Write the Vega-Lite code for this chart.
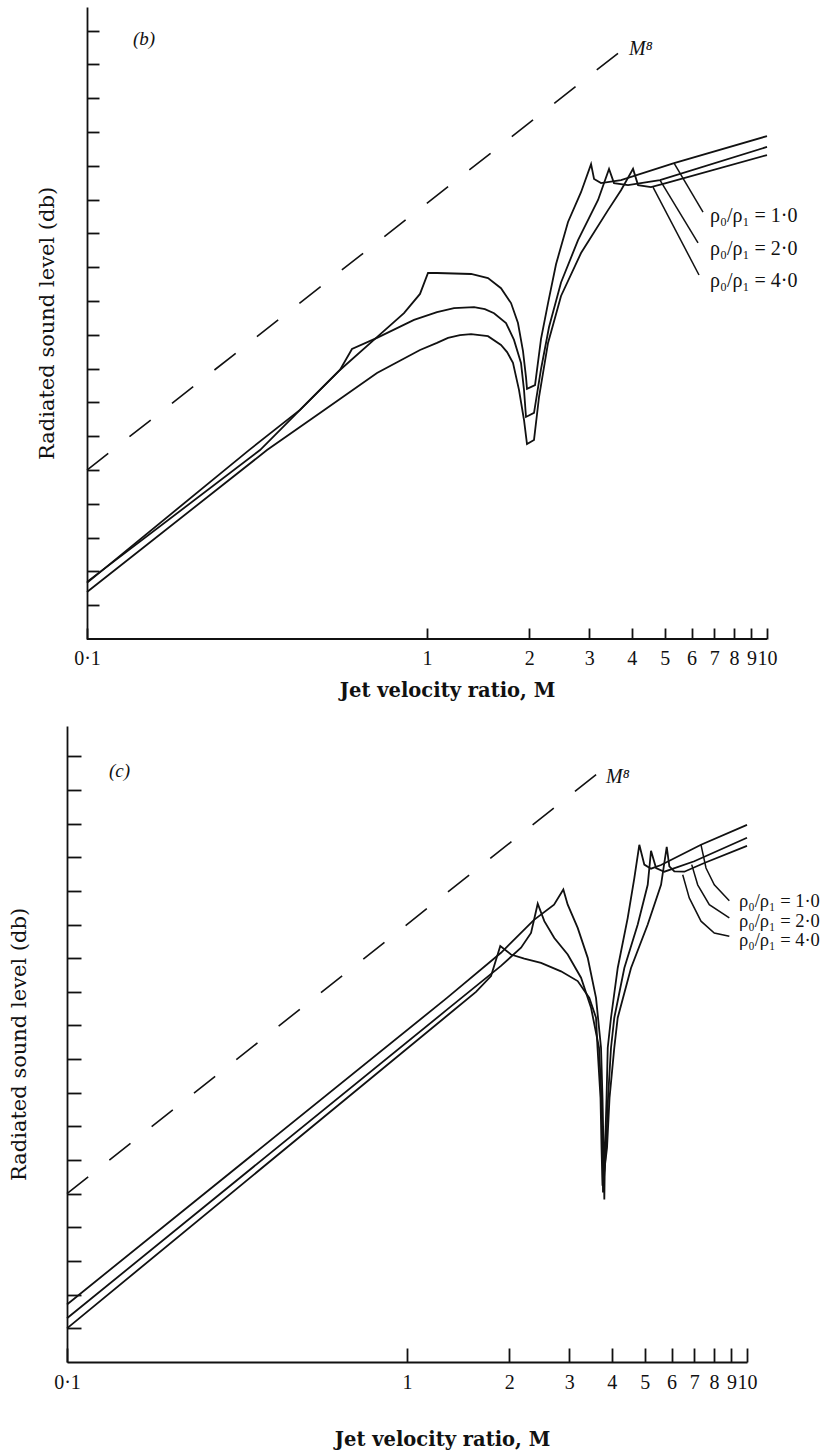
{
  "$schema": "https://vega.github.io/schema/vega-lite/v6.json",
  "background": "white",
  "padding": {"left": 8, "top": 7, "right": 2, "bottom": 2},
  "spacing": 26,
  "config": {
    "view": {"stroke": null},
    "axis": {"grid": false, "domainColor": "#111", "tickColor": "#111", "labelColor": "#111", "titleColor": "#111"}
  },
  "datasets": {
    "baxis": [{"M": 0.1, "M2": 10, "dB": 0}],
    "bdash": [{"i": 1, "M": 0.1, "dB": 50}, {"i": 2, "M": 3.72, "dB": 174}],
    "cdash": [{"i": 1, "M": 0.1, "dB": 50}, {"i": 2, "M": 3.646, "dB": 175}],
    "bcurves": [
      {"curve": "1", "i": 1, "M": 0.1, "dB": 16.9},
      {"curve": "1", "i": 2, "M": 0.3228, "dB": 55.9},
      {"curve": "1", "i": 3, "M": 0.4844, "dB": 73.7},
      {"curve": "1", "i": 4, "M": 0.5546, "dB": 79.6},
      {"curve": "1", "i": 5, "M": 0.7127, "dB": 89.3},
      {"curve": "1", "i": 6, "M": 0.8557, "dB": 96.4},
      {"curve": "1", "i": 7, "M": 0.9537, "dB": 102.1},
      {"curve": "1", "i": 8, "M": 1.0068, "dB": 108.3},
      {"curve": "1", "i": 9, "M": 1.07, "dB": 108.3},
      {"curve": "1", "i": 10, "M": 1.3475, "dB": 108.0},
      {"curve": "1", "i": 11, "M": 1.5114, "dB": 106.8},
      {"curve": "1", "i": 12, "M": 1.6506, "dB": 103.8},
      {"curve": "1", "i": 13, "M": 1.7666, "dB": 99.4},
      {"curve": "1", "i": 14, "M": 1.8516, "dB": 93.5},
      {"curve": "1", "i": 15, "M": 1.9158, "dB": 85.2},
      {"curve": "1", "i": 16, "M": 1.9551, "dB": 77.5},
      {"curve": "1", "i": 17, "M": 1.9684, "dB": 74.0},
      {"curve": "1", "i": 18, "M": 2.0784, "dB": 75.1},
      {"curve": "1", "i": 19, "M": 2.1647, "dB": 88.8},
      {"curve": "1", "i": 20, "M": 2.2698, "dB": 99.4},
      {"curve": "1", "i": 21, "M": 2.396, "dB": 110.9},
      {"curve": "1", "i": 22, "M": 2.5987, "dB": 123.4},
      {"curve": "1", "i": 23, "M": 2.8379, "dB": 132.2},
      {"curve": "1", "i": 24, "M": 3.0376, "dB": 140.5},
      {"curve": "1", "i": 25, "M": 3.0999, "dB": 136.1},
      {"curve": "1", "i": 26, "M": 3.25, "dB": 134.9},
      {"curve": "1", "i": 27, "M": 3.721, "dB": 135.8},
      {"curve": "1", "i": 28, "M": 5.3285, "dB": 140.8},
      {"curve": "1", "i": 29, "M": 10, "dB": 148.8},
      {"curve": "2", "i": 1, "M": 0.1, "dB": 16.6},
      {"curve": "2", "i": 2, "M": 0.2996, "dB": 55.9},
      {"curve": "2", "i": 3, "M": 0.4231, "dB": 67.8},
      {"curve": "2", "i": 4, "M": 0.5546, "dB": 79.6},
      {"curve": "2", "i": 5, "M": 0.6017, "dB": 85.8},
      {"curve": "2", "i": 6, "M": 0.7127, "dB": 89.1},
      {"curve": "2", "i": 7, "M": 0.9158, "dB": 94.4},
      {"curve": "2", "i": 8, "M": 1.07, "dB": 96.7},
      {"curve": "2", "i": 9, "M": 1.2006, "dB": 97.9},
      {"curve": "2", "i": 10, "M": 1.375, "dB": 98.2},
      {"curve": "2", "i": 11, "M": 1.48, "dB": 97.6},
      {"curve": "2", "i": 12, "M": 1.5746, "dB": 96.4},
      {"curve": "2", "i": 13, "M": 1.7077, "dB": 93.5},
      {"curve": "2", "i": 14, "M": 1.8024, "dB": 88.5},
      {"curve": "2", "i": 15, "M": 1.8899, "dB": 81.7},
      {"curve": "2", "i": 16, "M": 1.9288, "dB": 73.7},
      {"curve": "2", "i": 17, "M": 1.9551, "dB": 65.7},
      {"curve": "2", "i": 18, "M": 2.0641, "dB": 66.9},
      {"curve": "2", "i": 19, "M": 2.1647, "dB": 79.9},
      {"curve": "2", "i": 20, "M": 2.2851, "dB": 92.3},
      {"curve": "2", "i": 21, "M": 2.4786, "dB": 105.5},
      {"curve": "2", "i": 22, "M": 2.781, "dB": 118.0},
      {"curve": "2", "i": 23, "M": 3.1849, "dB": 129.9},
      {"curve": "2", "i": 24, "M": 3.4308, "dB": 139.1},
      {"curve": "2", "i": 25, "M": 3.5481, "dB": 134.9},
      {"curve": "2", "i": 26, "M": 3.902, "dB": 134.3},
      {"curve": "2", "i": 27, "M": 4.8444, "dB": 135.8},
      {"curve": "2", "i": 28, "M": 10, "dB": 145.6},
      {"curve": "4", "i": 1, "M": 0.1, "dB": 13.9},
      {"curve": "4", "i": 2, "M": 0.3384, "dB": 55.9},
      {"curve": "4", "i": 3, "M": 0.4844, "dB": 66.9},
      {"curve": "4", "i": 4, "M": 0.7127, "dB": 78.7},
      {"curve": "4", "i": 5, "M": 0.9537, "dB": 85.5},
      {"curve": "4", "i": 6, "M": 1.07, "dB": 87.6},
      {"curve": "4", "i": 7, "M": 1.153, "dB": 89.1},
      {"curve": "4", "i": 8, "M": 1.25, "dB": 89.9},
      {"curve": "4", "i": 9, "M": 1.3475, "dB": 90.2},
      {"curve": "4", "i": 10, "M": 1.5114, "dB": 89.6},
      {"curve": "4", "i": 11, "M": 1.6506, "dB": 87.0},
      {"curve": "4", "i": 12, "M": 1.72, "dB": 84.9},
      {"curve": "4", "i": 13, "M": 1.79, "dB": 81.7},
      {"curve": "4", "i": 14, "M": 1.8644, "dB": 73.7},
      {"curve": "4", "i": 15, "M": 1.9288, "dB": 64.8},
      {"curve": "4", "i": 16, "M": 1.9684, "dB": 57.7},
      {"curve": "4", "i": 17, "M": 2.0641, "dB": 58.9},
      {"curve": "4", "i": 18, "M": 2.1355, "dB": 71.6},
      {"curve": "4", "i": 19, "M": 2.2698, "dB": 87.6},
      {"curve": "4", "i": 20, "M": 2.4786, "dB": 101.5},
      {"curve": "4", "i": 21, "M": 2.838, "dB": 114.2},
      {"curve": "4", "i": 22, "M": 3.4077, "dB": 126.9},
      {"curve": "4", "i": 23, "M": 3.721, "dB": 132.8},
      {"curve": "4", "i": 24, "M": 4.0363, "dB": 139.1},
      {"curve": "4", "i": 25, "M": 4.1753, "dB": 134.3},
      {"curve": "4", "i": 26, "M": 4.5584, "dB": 133.7},
      {"curve": "4", "i": 27, "M": 5.045, "dB": 134.9},
      {"curve": "4", "i": 28, "M": 10, "dB": 143.2}
    ],
    "blead": [
      {"curve": "1", "i": 1, "M": 5.3285, "dB": 140.8},
      {"curve": "1", "i": 2, "M": 6.4836, "dB": 126.3},
      {"curve": "2", "i": 1, "M": 4.8444, "dB": 135.8},
      {"curve": "2", "i": 2, "M": 6.268, "dB": 117.2},
      {"curve": "4", "i": 1, "M": 4.6208, "dB": 133.7},
      {"curve": "4", "i": 2, "M": 6.3096, "dB": 107.7}
    ],
    "blab": [
      {"M": 6.8, "dB": 123.4, "t": "ρ₀/ρ₁ = 1·0"},
      {"M": 6.8, "dB": 113.6, "t": "ρ₀/ρ₁ = 2·0"},
      {"M": 6.8, "dB": 104.1, "t": "ρ₀/ρ₁ = 4·0"}
    ],
    "bm8": [{"M": 3.928, "dB": 172.8, "t": "M⁸"}],
    "bpan": [{"M": 0.1365, "dB": 175.7, "t": "(b)"}],
    "ccurves": [
      {"curve": "1", "i": 1, "M": 0.1, "dB": 17.1},
      {"curve": "1", "i": 2, "M": 1.3111, "dB": 108.2},
      {"curve": "1", "i": 3, "M": 1.8899, "dB": 121.6},
      {"curve": "1", "i": 4, "M": 2.3638, "dB": 131.4},
      {"curve": "1", "i": 5, "M": 2.7068, "dB": 135.9},
      {"curve": "1", "i": 6, "M": 2.8827, "dB": 140.4},
      {"curve": "1", "i": 7, "M": 2.9696, "dB": 135.9},
      {"curve": "1", "i": 8, "M": 3.1772, "dB": 129.0},
      {"curve": "1", "i": 9, "M": 3.4005, "dB": 120.1},
      {"curve": "1", "i": 10, "M": 3.597, "dB": 108.2},
      {"curve": "1", "i": 11, "M": 3.721, "dB": 93.4},
      {"curve": "1", "i": 12, "M": 3.7584, "dB": 78.5},
      {"curve": "1", "i": 13, "M": 3.7842, "dB": 63.7},
      {"curve": "1", "i": 14, "M": 3.8052, "dB": 48.3},
      {"curve": "1", "i": 15, "M": 3.8237, "dB": 63.7},
      {"curve": "1", "i": 16, "M": 3.863, "dB": 78.5},
      {"curve": "1", "i": 17, "M": 3.8943, "dB": 93.4},
      {"curve": "1", "i": 18, "M": 3.9811, "dB": 102.3},
      {"curve": "1", "i": 19, "M": 4.1666, "dB": 117.1},
      {"curve": "1", "i": 20, "M": 4.4586, "dB": 132.0},
      {"curve": "1", "i": 21, "M": 4.6623, "dB": 143.8},
      {"curve": "1", "i": 22, "M": 4.8227, "dB": 153.7},
      {"curve": "1", "i": 23, "M": 4.9888, "dB": 147.8},
      {"curve": "1", "i": 24, "M": 5.2204, "dB": 146.6},
      {"curve": "1", "i": 25, "M": 5.5871, "dB": 147.7},
      {"curve": "1", "i": 26, "M": 7.3233, "dB": 153.7},
      {"curve": "1", "i": 27, "M": 10, "dB": 159.6},
      {"curve": "2", "i": 1, "M": 0.1, "dB": 13.0},
      {"curve": "2", "i": 2, "M": 1.3111, "dB": 104.7},
      {"curve": "2", "i": 3, "M": 1.8899, "dB": 117.7},
      {"curve": "2", "i": 4, "M": 2.1647, "dB": 123.1},
      {"curve": "2", "i": 5, "M": 2.3163, "dB": 127.5},
      {"curve": "2", "i": 6, "M": 2.4237, "dB": 136.2},
      {"curve": "2", "i": 7, "M": 2.5346, "dB": 131.0},
      {"curve": "2", "i": 8, "M": 2.7118, "dB": 126.0},
      {"curve": "2", "i": 9, "M": 2.9696, "dB": 121.1},
      {"curve": "2", "i": 10, "M": 3.25, "dB": 114.2},
      {"curve": "2", "i": 11, "M": 3.4774, "dB": 105.3},
      {"curve": "2", "i": 12, "M": 3.6707, "dB": 93.4},
      {"curve": "2", "i": 13, "M": 3.7337, "dB": 78.5},
      {"curve": "2", "i": 14, "M": 3.7584, "dB": 63.7},
      {"curve": "2", "i": 15, "M": 3.7713, "dB": 50.4},
      {"curve": "2", "i": 16, "M": 3.8495, "dB": 63.7},
      {"curve": "2", "i": 17, "M": 3.902, "dB": 78.5},
      {"curve": "2", "i": 18, "M": 3.9811, "dB": 93.4},
      {"curve": "2", "i": 19, "M": 4.0712, "dB": 102.3},
      {"curve": "2", "i": 20, "M": 4.3572, "dB": 117.1},
      {"curve": "2", "i": 21, "M": 4.7707, "dB": 130.0},
      {"curve": "2", "i": 22, "M": 5.105, "dB": 141.8},
      {"curve": "2", "i": 23, "M": 5.2204, "dB": 151.9},
      {"curve": "2", "i": 24, "M": 5.4014, "dB": 146.8},
      {"curve": "2", "i": 25, "M": 5.7135, "dB": 145.7},
      {"curve": "2", "i": 26, "M": 6.9984, "dB": 148.8},
      {"curve": "2", "i": 27, "M": 10, "dB": 155.8},
      {"curve": "4", "i": 1, "M": 0.1, "dB": 10.0},
      {"curve": "4", "i": 2, "M": 1.3111, "dB": 102.9},
      {"curve": "4", "i": 3, "M": 1.5955, "dB": 110.0},
      {"curve": "4", "i": 4, "M": 1.7666, "dB": 114.7},
      {"curve": "4", "i": 5, "M": 1.8808, "dB": 123.6},
      {"curve": "4", "i": 6, "M": 2.0223, "dB": 121.1},
      {"curve": "4", "i": 7, "M": 2.2131, "dB": 119.9},
      {"curve": "4", "i": 8, "M": 2.4786, "dB": 118.6},
      {"curve": "4", "i": 9, "M": 2.8379, "dB": 116.1},
      {"curve": "4", "i": 10, "M": 3.1772, "dB": 113.2},
      {"curve": "4", "i": 11, "M": 3.4376, "dB": 108.2},
      {"curve": "4", "i": 12, "M": 3.597, "dB": 102.3},
      {"curve": "4", "i": 13, "M": 3.6337, "dB": 93.4},
      {"curve": "4", "i": 14, "M": 3.7081, "dB": 78.5},
      {"curve": "4", "i": 15, "M": 3.7337, "dB": 63.7},
      {"curve": "4", "i": 16, "M": 3.7584, "dB": 52.4},
      {"curve": "4", "i": 17, "M": 3.8755, "dB": 63.7},
      {"curve": "4", "i": 18, "M": 3.9417, "dB": 78.5},
      {"curve": "4", "i": 19, "M": 4.0712, "dB": 93.4},
      {"curve": "4", "i": 20, "M": 4.1666, "dB": 102.3},
      {"curve": "4", "i": 21, "M": 4.5592, "dB": 117.1},
      {"curve": "4", "i": 22, "M": 5.105, "dB": 130.0},
      {"curve": "4", "i": 23, "M": 5.5871, "dB": 141.8},
      {"curve": "4", "i": 24, "M": 5.8064, "dB": 153.1},
      {"curve": "4", "i": 25, "M": 5.9104, "dB": 147.3},
      {"curve": "4", "i": 26, "M": 6.1138, "dB": 145.8},
      {"curve": "4", "i": 27, "M": 6.5406, "dB": 145.7},
      {"curve": "4", "i": 28, "M": 7.4889, "dB": 148.3},
      {"curve": "4", "i": 29, "M": 10, "dB": 153.4}
    ],
    "clead": [
      {"curve": "1", "i": 1, "M": 7.3233, "dB": 153.7},
      {"curve": "1", "i": 2, "M": 7.5756, "dB": 146.8},
      {"curve": "1", "i": 3, "M": 8.0132, "dB": 141.8},
      {"curve": "1", "i": 4, "M": 8.8716, "dB": 137.1},
      {"curve": "2", "i": 1, "M": 6.877, "dB": 147.8},
      {"curve": "2", "i": 2, "M": 7.161, "dB": 141.8},
      {"curve": "2", "i": 3, "M": 7.7467, "dB": 135.9},
      {"curve": "2", "i": 4, "M": 8.8716, "dB": 132.0},
      {"curve": "4", "i": 1, "M": 6.4702, "dB": 144.8},
      {"curve": "4", "i": 2, "M": 6.7637, "dB": 137.9},
      {"curve": "4", "i": 3, "M": 7.3233, "dB": 131.0},
      {"curve": "4", "i": 4, "M": 8.0132, "dB": 127.5},
      {"curve": "4", "i": 5, "M": 8.8716, "dB": 126.5}
    ],
    "clab": [
      {"M": 9.474, "dB": 135.2, "t": "ρ₀/ρ₁ = 1·0"},
      {"M": 9.474, "dB": 129.4, "t": "ρ₀/ρ₁ = 2·0"},
      {"M": 9.474, "dB": 123.6, "t": "ρ₀/ρ₁ = 4·0"}
    ],
    "cm8": [{"M": 3.848, "dB": 172.0, "t": "M⁸"}],
    "cpan": [{"M": 0.1329, "dB": 173.8, "t": "(c)"}]
  },
  "vconcat": [
    {
      "width": 700,
      "height": 632,
      "encoding": {
        "x": {
          "field": "M", "type": "quantitative",
          "scale": {"type": "log", "domain": [0.08733, 10], "nice": false},
          "axis": {
            "values": [0.1, 1, 2, 3, 4, 5, 6, 7, 8, 9, 10],
            "labelExpr": "datum.value < 0.5 ? '0·1' : format(datum.value, 'd')",
            "domain": false, "tickSize": -11, "tickWidth": 1.8,
            "labelFont": "Liberation Serif", "labelFontSize": 20, "labelPadding": 20,
            "labelOverlap": false, "labelFlush": false, "labelBound": false,
            "title": "Jet velocity ratio, M", "titleFont": "DejaVu Serif", "titleFontSize": 19.5,
            "titleFontWeight": "bold", "titlePadding": 13, "titleX": 380
          }
        },
        "y": {
          "field": "dB", "type": "quantitative",
          "scale": {"domain": [0, 187], "nice": false, "zero": false},
          "axis": {
            "values": [10, 20, 30, 40, 50, 60, 70, 80, 90, 100, 110, 120, 130, 140, 150, 160, 170, 180],
            "labels": false, "offset": -20, "domainWidth": 1.8, "tickSize": -12, "tickWidth": 1.8,
            "title": "Radiated sound level (db)", "titleFont": "DejaVu Serif", "titleFontSize": 21,
            "titleFontWeight": "normal", "titlePadding": 29
          }
        }
      },
      "layer": [
        {"data": {"name": "baxis"}, "mark": {"type": "rule", "strokeWidth": 1.8, "color": "#111"}, "encoding": {"x2": {"field": "M2"}}},
        {"data": {"name": "bdash"}, "mark": {"type": "line", "strokeDash": [27, 27], "strokeWidth": 1.6, "color": "#111"}, "encoding": {"order": {"field": "i"}}},
        {"data": {"name": "bcurves"}, "mark": {"type": "line", "strokeWidth": 1.8, "color": "#111"}, "encoding": {"detail": {"field": "curve"}, "order": {"field": "i"}}},
        {"data": {"name": "blead"}, "mark": {"type": "line", "strokeWidth": 1.5, "color": "#111"}, "encoding": {"detail": {"field": "curve"}, "order": {"field": "i"}}},
        {"data": {"name": "blab"}, "mark": {"type": "text", "align": "left", "baseline": "alphabetic", "font": "Liberation Serif", "fontSize": 20, "color": "#111"}, "encoding": {"text": {"field": "t"}}},
        {"data": {"name": "bm8"}, "mark": {"type": "text", "align": "left", "baseline": "alphabetic", "font": "Liberation Serif", "fontSize": 20, "fontStyle": "italic", "color": "#111"}, "encoding": {"text": {"field": "t"}}},
        {"data": {"name": "bpan"}, "mark": {"type": "text", "align": "left", "baseline": "alphabetic", "font": "Liberation Serif", "fontSize": 19, "fontStyle": "italic", "color": "#111"}, "encoding": {"text": {"field": "t"}}}
      ]
    },
    {
      "width": 680,
      "height": 636,
      "encoding": {
        "x": {
          "field": "M", "type": "quantitative",
          "scale": {"type": "log", "domain": [0.1, 10], "nice": false},
          "axis": {
            "values": [0.1, 1, 2, 3, 4, 5, 6, 7, 8, 9, 10],
            "labelExpr": "datum.value < 0.5 ? '0·1' : format(datum.value, 'd')",
            "domain": true, "domainWidth": 1.8, "tickSize": -14, "tickWidth": 1.8,
            "labelFont": "Liberation Serif", "labelFontSize": 20, "labelPadding": 24,
            "labelOverlap": false, "labelFlush": false, "labelBound": false,
            "title": "Jet velocity ratio, M", "titleFont": "DejaVu Serif", "titleFontSize": 19.5,
            "titleFontWeight": "bold", "titlePadding": 38, "titleX": 375
          }
        },
        "y": {
          "field": "dB", "type": "quantitative",
          "scale": {"domain": [0, 189], "nice": false, "zero": false},
          "axis": {
            "values": [10, 20, 30, 40, 50, 60, 70, 80, 90, 100, 110, 120, 130, 140, 150, 160, 170, 180],
            "labels": false, "domainWidth": 1.8, "tickSize": -14, "tickWidth": 1.8,
            "title": "Radiated sound level (db)", "titleFont": "DejaVu Serif", "titleFontSize": 21,
            "titleFontWeight": "normal", "titlePadding": 37
          }
        }
      },
      "layer": [
        {"data": {"name": "cdash"}, "mark": {"type": "line", "strokeDash": [27, 27], "strokeWidth": 1.6, "color": "#111"}, "encoding": {"order": {"field": "i"}}},
        {"data": {"name": "ccurves"}, "mark": {"type": "line", "strokeWidth": 1.8, "color": "#111"}, "encoding": {"detail": {"field": "curve"}, "order": {"field": "i"}}},
        {"data": {"name": "clead"}, "mark": {"type": "line", "strokeWidth": 1.5, "color": "#111"}, "encoding": {"detail": {"field": "curve"}, "order": {"field": "i"}}},
        {"data": {"name": "clab"}, "mark": {"type": "text", "align": "left", "baseline": "alphabetic", "font": "Liberation Serif", "fontSize": 18.5, "color": "#111"}, "encoding": {"text": {"field": "t"}}},
        {"data": {"name": "cm8"}, "mark": {"type": "text", "align": "left", "baseline": "alphabetic", "font": "Liberation Serif", "fontSize": 20, "fontStyle": "italic", "color": "#111"}, "encoding": {"text": {"field": "t"}}},
        {"data": {"name": "cpan"}, "mark": {"type": "text", "align": "left", "baseline": "alphabetic", "font": "Liberation Serif", "fontSize": 19, "fontStyle": "italic", "color": "#111"}, "encoding": {"text": {"field": "t"}}}
      ]
    }
  ]
}
